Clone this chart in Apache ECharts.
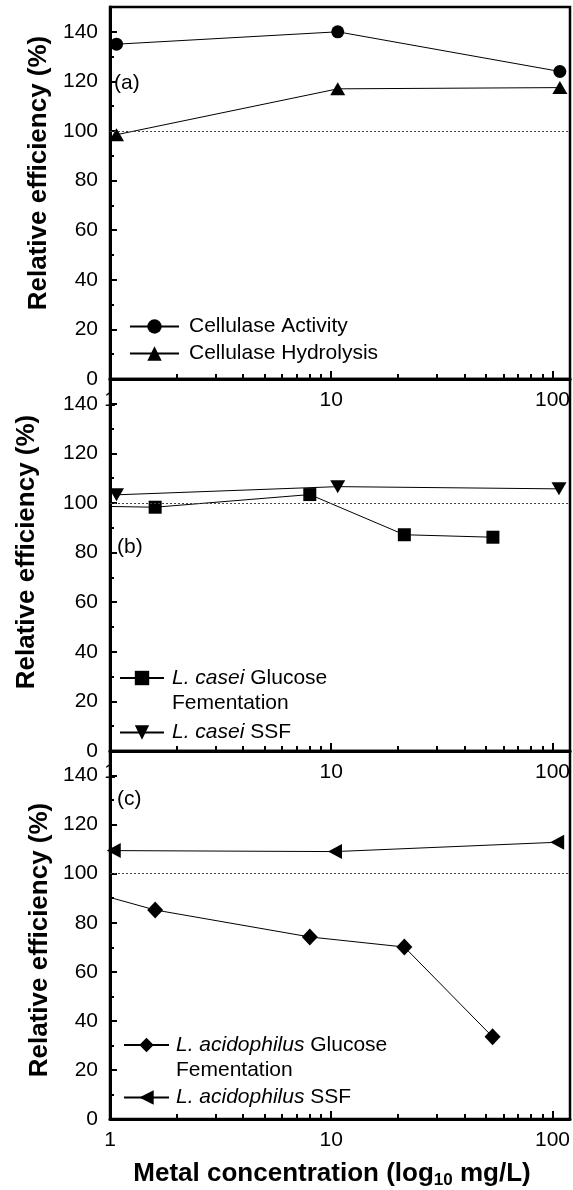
<!DOCTYPE html>
<html>
<head>
<meta charset="utf-8">
<script src="https://cdn.jsdelivr.net/npm/echarts@6/dist/echarts.min.js"></script>
<style>
  html, body { margin: 0; padding: 0; background: #fff; }
  #chart { width: 573px; height: 1190px; }
</style>
</head>
<body>
<div id="chart"></div>
<script>
// panel (a) cellulase
const activityX = [1.07, 10.7, 108];
const activityY = [135, 140, 124];
const hydrolysisX = [1.07, 10.7, 108];
const hydrolysisY = [98.5, 117, 117.5];
// panel (b) L. casei
const caseiGluX = [1, 1.6, 8.0, 21.4, 53.8];
const caseiGluY = [98.6, 98.3, 103.4, 87.2, 86.2];
const caseiSsfX = [1.07, 10.7, 107];
const caseiSsfY = [103.3, 106.6, 105.7];
// panel (c) L. acidophilus
const acidGluX = [1, 1.6, 8.0, 21.4, 53.6];
const acidGluY = [90.3, 85.2, 74.2, 70.1, 33.5];
const acidSsfX = [1.04, 10.4, 105];
const acidSsfY = [109.4, 109.0, 112.8];

const xMajor = [1, 10, 100];
const xMinor = [2, 3, 4, 5, 6, 7, 8, 9, 20, 30, 40, 50, 60, 70, 80, 90];
const yMajor = [0, 20, 40, 60, 80, 100, 120, 140];
const yMinor = [10, 30, 50, 70, 90, 110, 130];
const refValue = 100;
const panelLabels = ['(a)', '(b)', '(c)'];

const FONT = '"Liberation Sans", Arial, sans-serif';
const tops = [7, 379, 751];
const H = 372;

const chart = echarts.init(document.getElementById('chart'), null, { renderer: 'canvas' });

// pair x/y arrays; the first point may carry no marker (line starts at the axis)
function pts(xs, ys, noFirstMarker) {
  return xs.map((x, i) => (noFirstMarker && i === 0)
    ? { value: [x, ys[i]], symbol: 'none' }
    : [x, ys[i]]);
}

const grids = tops.map(t => ({
  left: 110, top: t, width: 462, height: H,
  show: true, borderColor: '#000', borderWidth: 2.5, backgroundColor: 'transparent'
}));

const xAxes = [];
const yAxes = [];
tops.forEach((t, g) => {
  xAxes.push({
    type: 'log', logBase: 10, gridIndex: g, min: 1, max: 120, position: 'bottom',
    axisLine: { lineStyle: { color: '#000', width: 3 } },
    axisTick: { inside: true, length: 8, customValues: xMajor, lineStyle: { color: '#000', width: 2 } },
    axisLabel: { customValues: xMajor, color: '#000', fontSize: 21, fontFamily: FONT, margin: 11 },
    splitLine: { show: false },
    name: g === 2 ? 'Metal concentration (log{s|10} mg/L)' : '',
    nameLocation: 'middle', nameGap: 40,
    nameTextStyle: {
      fontSize: 26, fontWeight: 'bold', color: '#000', fontFamily: FONT, lineHeight: 30,
      padding: [0, 16, 0, 0],
      rich: { s: { fontSize: 17, fontWeight: 'bold', fontFamily: FONT, color: '#000', lineHeight: 18, verticalAlign: 'bottom' } }
    }
  });
  xAxes.push({
    type: 'log', logBase: 10, gridIndex: g, min: 1, max: 120, position: 'bottom',
    axisLine: { show: false },
    axisTick: { inside: true, length: 5, customValues: xMinor, lineStyle: { color: '#000', width: 2 } },
    axisLabel: { show: false },
    splitLine: { show: false }
  });
  yAxes.push({
    type: 'value', gridIndex: g, min: 0, max: 150, position: 'left',
    axisLine: { show: true, lineStyle: { color: '#000', width: 3 } },
    axisTick: { show: true, inside: true, length: 7, customValues: yMajor, lineStyle: { color: '#000', width: 2 } },
    axisLabel: { customValues: yMajor, color: '#000', fontSize: 21, fontFamily: FONT, margin: 12 },
    splitLine: { show: false }
  });
  yAxes.push({
    type: 'value', gridIndex: g, min: 0, max: 150, position: 'left',
    axisLine: { show: false },
    axisTick: { show: true, inside: true, length: 4, customValues: yMinor, lineStyle: { color: '#000', width: 2 } },
    axisLabel: { show: false },
    splitLine: { show: false }
  });
});

const refLine = {
  silent: true, symbol: 'none', animation: false,
  label: { show: false },
  lineStyle: { type: [2, 2], color: '#444', width: 1 },
  data: [{ yAxis: refValue }]
};

function line(name, g, data, symbol, size, rotate, withRef) {
  return {
    type: 'line', name, xAxisIndex: g * 2, yAxisIndex: g * 2, data,
    symbol, symbolSize: size, symbolRotate: rotate || 0, showSymbol: true,
    color: '#000', lineStyle: { color: '#000', width: 1 },
    itemStyle: { color: '#000' },
    markLine: withRef ? refLine : undefined,
    z: 3
  };
}

const series = [
  line('Cellulase Activity', 0, pts(activityX, activityY), 'circle', 13, 0, true),
  line('Cellulase Hydrolysis', 0, pts(hydrolysisX, hydrolysisY), 'triangle', [15, 13]),
  line('L. casei Glucose Fementation', 1, pts(caseiGluX, caseiGluY, true), 'rect', 13, 0, true),
  line('L. casei SSF', 1, pts(caseiSsfX, caseiSsfY), 'triangle', [15, 13], 180),
  line('L. acidophilus Glucose Fementation', 2, pts(acidGluX, acidGluY, true), 'diamond', [16, 17], 0, true),
  line('L. acidophilus SSF', 2, pts(acidSsfX, acidSsfY), 'triangle', [15, 14], 90)
];

const legendText = {
  'Cellulase Activity': 'Cellulase Activity',
  'Cellulase Hydrolysis': 'Cellulase Hydrolysis',
  'L. casei Glucose Fementation': '{i|L. casei} Glucose\nFementation',
  'L. casei SSF': '{i|L. casei} SSF',
  'L. acidophilus Glucose Fementation': '{i|L. acidophilus} Glucose\nFementation',
  'L. acidophilus SSF': '{i|L. acidophilus} SSF'
};

function legend(name, left, top, w, gap, twoLines) {
  return {
    data: [name], left, top, orient: 'vertical', padding: 0,
    itemWidth: w, itemHeight: 18, selectedMode: false,
    formatter: n => legendText[n],
    textStyle: {
      color: '#000', fontSize: 21, fontFamily: FONT,
      lineHeight: twoLines ? 25 : 16,
      padding: twoLines ? [25, 0, 0, gap] : [0, 0, 0, gap],
      rich: { i: { fontStyle: 'italic', fontSize: 21, fontFamily: FONT, color: '#000', lineHeight: twoLines ? 25 : 16 } }
    }
  };
}

const legends = [
  legend('Cellulase Activity', 129, 316, 49, 5),
  legend('Cellulase Hydrolysis', 129, 343, 49, 5),
  legend('L. casei Glucose Fementation', 119, 640.5, 44, 3, true),
  legend('L. casei SSF', 119, 722, 44, 3),
  legend('L. acidophilus Glucose Fementation', 123, 1007.5, 45, 2, true),
  legend('L. acidophilus SSF', 123, 1087, 45, 2)
];

const yTitlePos = [[39, 173], [27, 552], [40, 940]];
const panelLabelPos = [[114, 83], [117, 547], [117, 799]];
const graphics = [];
yTitlePos.forEach(p => graphics.push({
  type: 'text', x: p[0], y: p[1], rotation: Math.PI / 2,
  style: { text: 'Relative efficiency (%)', font: 'bold 26px ' + FONT, fill: '#000', align: 'center', verticalAlign: 'middle' }
}));
panelLabelPos.forEach((p, i) => graphics.push({
  type: 'text', x: p[0], y: p[1],
  style: { text: panelLabels[i], font: '21px ' + FONT, fill: '#000', align: 'left', verticalAlign: 'middle' }
}));

chart.setOption({
  animation: false,
  backgroundColor: '#fff',
  grid: grids,
  xAxis: xAxes,
  yAxis: yAxes,
  legend: legends,
  graphic: graphics,
  series
});
</script>
</body>
</html>
